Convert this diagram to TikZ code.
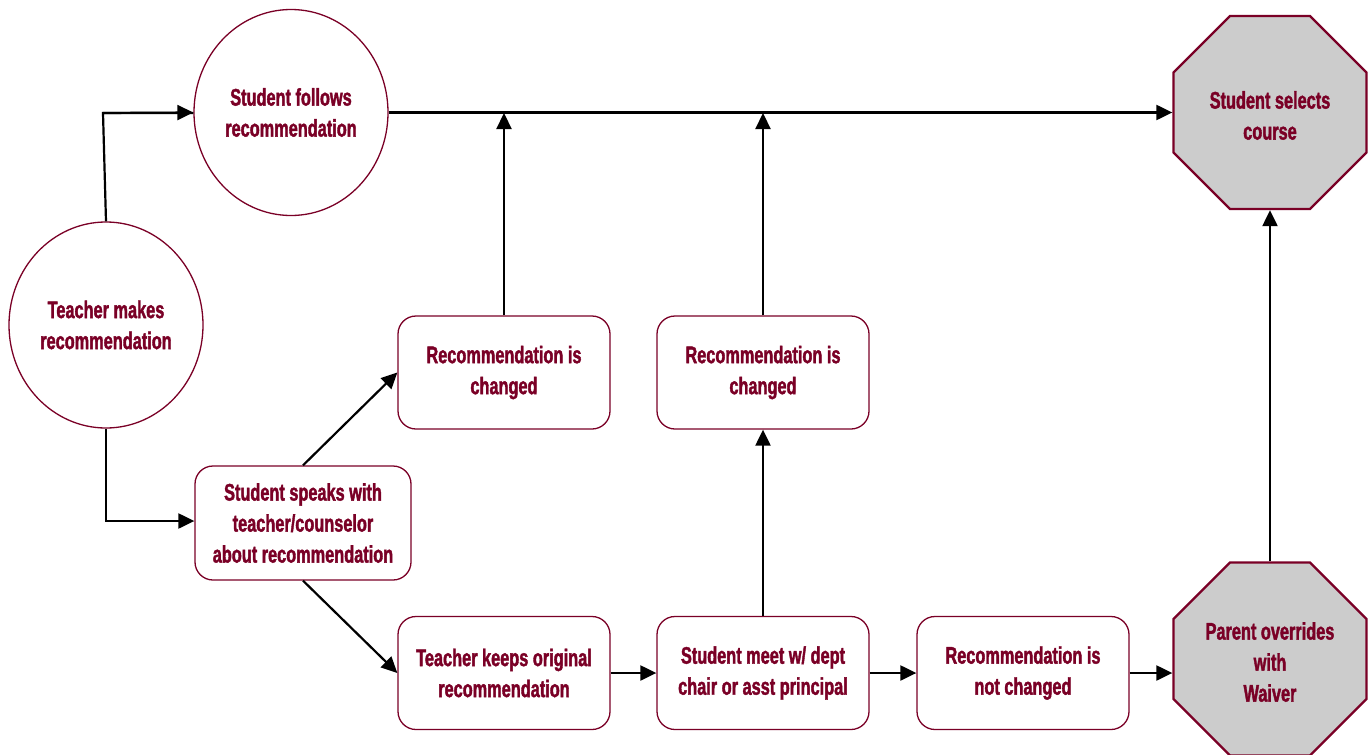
\documentclass[tikz,border=0pt]{standalone}
\usepackage{fontspec}
\setmainfont{Liberation Sans}[FakeStretch=0.68, BoldFeatures={FakeBold=1.6}]
\usetikzlibrary{shapes.geometric,arrows.meta}
\definecolor{maroon}{HTML}{7A0026}
\definecolor{octfill}{HTML}{CCCCCC}
\tikzset{
  lbl/.style={text=maroon, font=\fontsize{24}{31}\selectfont\bfseries, align=center, inner sep=0pt},
  circ/.style={lbl, ellipse, draw=maroon, line width=1.3pt, minimum width=194pt, minimum height=206pt},
  rbox/.style={lbl, rectangle, rounded corners=18pt, draw=maroon, line width=1.3pt, minimum width=212pt, minimum height=113pt},
  octa/.style={regular polygon, regular polygon sides=8, draw=maroon, fill=octfill, line width=2.2pt, minimum size=209pt},
  conn/.style={line width=2.2pt, -{Triangle[length=16pt,width=15pt]}}
}
\begin{document}
\begin{tikzpicture}[x=1pt,y=-1pt]
\useasboundingbox (0,0) rectangle (1369,755);
\node[circ] (tm) at (106,325) {Teacher makes\\recommendation};
\node[circ] (sf) at (291,112.5) {Student follows\\recommendation};
\node[octa] (sel) at (1270,112.5) {};
\node[lbl] (selt) at ([yshift=-3pt]sel.center) {Student selects\\course};
\node[octa] (par) at (1270,659) {};
\node[lbl] (part) at ([yshift=-3pt]par.center) {Parent overrides\\with\\Waiver};
\node[rbox] (rc1) at (504,372.5) {Recommendation is\\changed};
\node[rbox] (rc2) at (763,372.5) {Recommendation is\\changed};
\node[rbox, minimum width=216pt, minimum height=114pt] (ss) at (303,523) {Student speaks with\\teacher/counselor\\about recommendation};
\node[rbox] (tk) at (504,673) {Teacher keeps original\\recommendation};
\node[rbox] (sm) at (763,673) {Student meet w/ dept\\chair or asst principal};
\node[rbox] (nc) at (1023,673) {Recommendation is\\not changed};
\coordinate (c1) at (103,113);
\coordinate (c2) at (106,521);
\coordinate (j1) at (504,113);
\coordinate (j2) at (763,113);
\draw[line width=2.2pt] (tm.north) -- (c1) -- (c1 -| sf.west);
\draw[conn] (c1) -- (sf.west);
\draw[conn] (tm.south) -- (c2) -- (ss.west |- c2);
\draw[conn] (ss.north) -- (rc1.west);
\draw[conn] (ss.south) -- (tk.west);
\draw[conn] (rc1.north) -- (j1);
\draw[conn] (rc2.north) -- (j2);
\draw[conn] (sf.east) -- (sel.west);
\draw[conn] (tk.east) -- (sm.west);
\draw[conn] (sm.north) -- (rc2.south);
\draw[conn] (sm.east) -- (nc.west);
\draw[conn] (nc.east) -- (par.west |- nc.east);
\draw[conn] (par.north) -- (sel.south);
\end{tikzpicture}
\end{document}
